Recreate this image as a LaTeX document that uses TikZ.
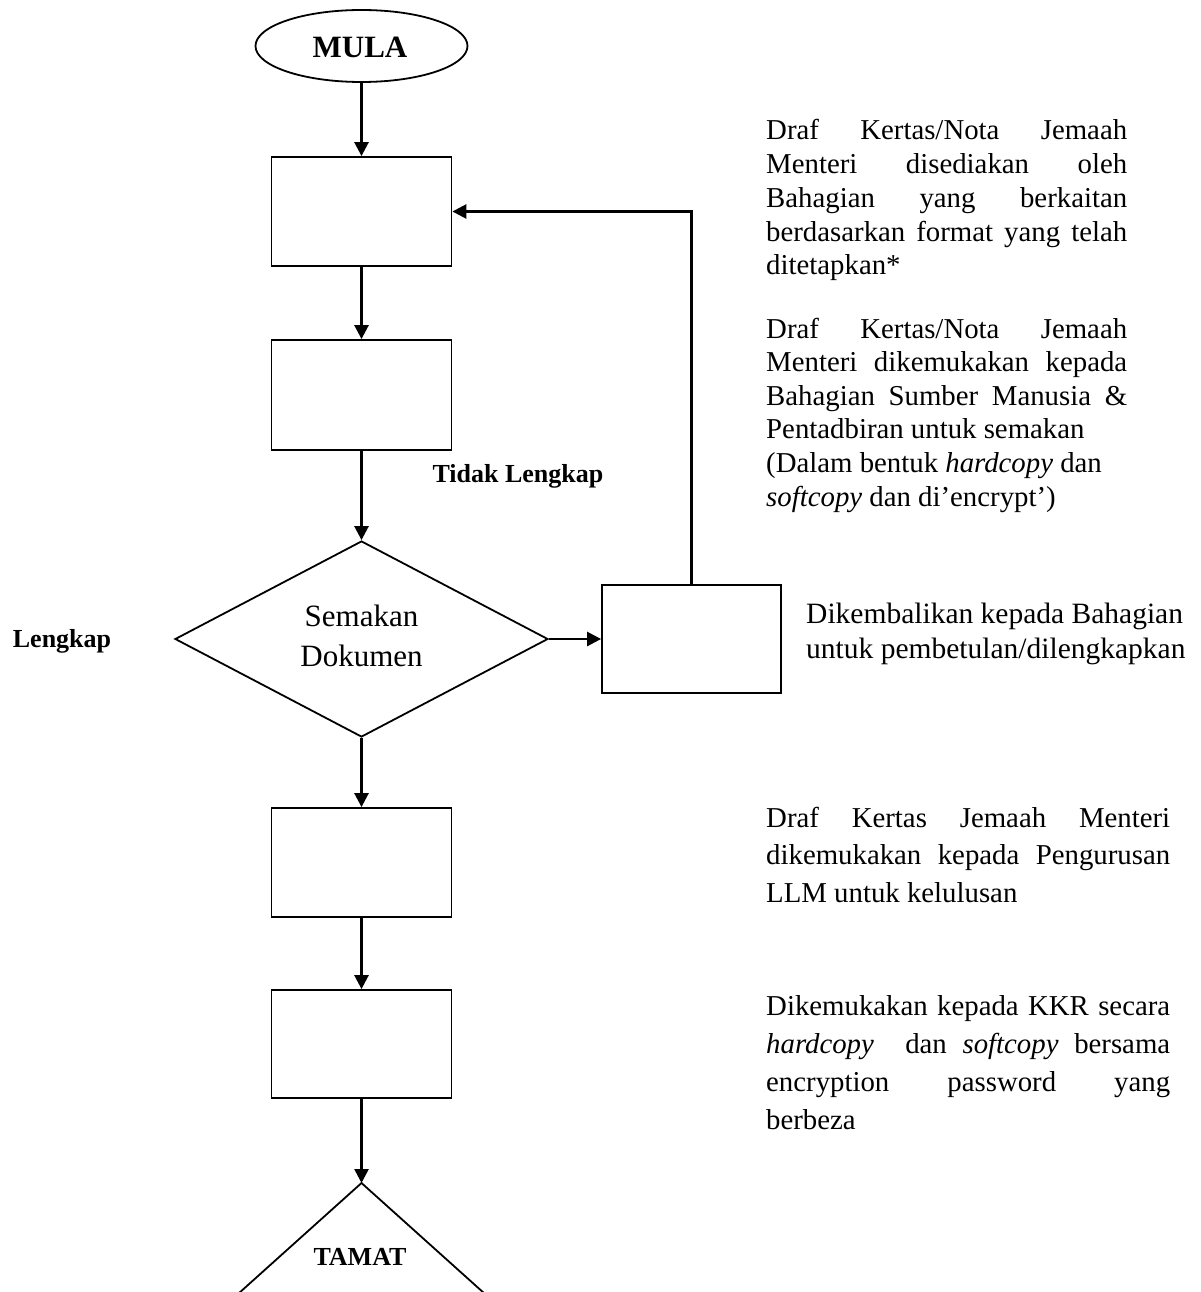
\documentclass[tikz,border=0pt]{standalone}
\usepackage{fontspec}
\setmainfont{Liberation Serif}
\usetikzlibrary{shapes.geometric,arrows.meta}
\newcommand\jline[1]{\makebox[\linewidth][s]{#1}\par}
\tikzset{
  shapeline/.style={draw, line width=1.8pt},
  flowbox/.style={shapeline, rectangle, inner sep=0pt, minimum width=180pt, minimum height=109pt},
  conn/.style={line width=2.6pt, -{Triangle[length=14pt,width=14pt]}},
  lbl/.style={inner sep=0pt, anchor=base, font=\fontsize{26pt}{30pt}\selectfont\bfseries},
  desc/.style={inner sep=0pt, anchor=base west},
}
\begin{document}
\begin{tikzpicture}[x=1pt,y=-1pt]
\useasboundingbox (0,0) rectangle (1200,1292);
\clip (0,0) rectangle (1200,1292);
\fill[white] (0,0) rectangle (1200,1292);

% start
\node[shapeline, ellipse, inner sep=0pt, minimum width=212pt, minimum height=72pt] (mula) at (361.5,46) {};
\node[inner sep=0pt, anchor=base, font=\fontsize{31pt}{34pt}\selectfont\bfseries] (mulatxt) at (360,58) {MULA};

% boxes
\node[flowbox] (b1) at (361.5,211.5) {};
\node[flowbox, minimum height=110pt] (b2) at (361.5,395) {};
\node[shapeline, diamond, inner sep=0pt, minimum width=373pt, minimum height=196pt, shape aspect=1.9] (dia) at (361.5,639) {};
\node[inner sep=0pt, align=center, font=\fontsize{31pt}{40pt}\selectfont] (diatxt) at (361.5,636) {Semakan\\Dokumen};
\node[flowbox, minimum width=179pt, minimum height=108pt] (b3) at (691.5,639) {};
\node[flowbox] (b4) at (361.5,862.5) {};
\node[flowbox, minimum height=108pt] (b5) at (361.5,1044) {};

% end triangle
\coordinate (tamtop) at (361.5,1183);
\draw[line width=1.8pt, line join=miter] (120,1400) -- (tamtop) -- (603,1400);
\node[lbl] (tamat) at (360,1265) {TAMAT};

% labels
\node[lbl] (tidak) at (518,482) {Tidak Lengkap};
\node[lbl] (lengkap) at (62,647) {Lengkap};

% connectors
\draw[conn] (mula.south) -- (b1.north);
\draw[conn] (b1.south) -- (b2.north);
\draw[conn] (b2.south) -- (dia.north);
\draw[conn] (dia.east) -- (b3.west);
\draw[conn] (b3.north) |- (b1.east);
\draw[conn] (dia.south) -- (b4.north);
\draw[conn] (b4.south) -- (b5.north);
\draw[conn] (b5.south) -- (tamtop);

% descriptions
\node[desc] (d1) at (766,140) {\parbox[t]{361pt}{\fontsize{28.8pt}{33.7pt}\selectfont
\jline{Draf Kertas/Nota Jemaah}
\jline{Menteri disediakan oleh}
\jline{Bahagian yang berkaitan}
\jline{berdasarkan format yang telah}
ditetapkan*\par}};

\node[desc] (d2) at (766,338) {\parbox[t]{361pt}{\fontsize{28.8pt}{33.6pt}\selectfont
\jline{Draf Kertas/Nota Jemaah}
\jline{Menteri dikemukakan kepada}
\jline{Bahagian Sumber Manusia \&}
Pentadbiran untuk semakan\par
(Dalam bentuk \textit{hardcopy} dan\par
\textit{softcopy} dan di’encrypt’)\par}};

\node[desc] (d3) at (806,623) {\parbox[t]{394pt}{\fontsize{29.5pt}{35pt}\selectfont
Dikembalikan kepada Bahagian\par
untuk pembetulan/dilengkapkan\par}};

\node[desc] (d4) at (766,827) {\parbox[t]{404pt}{\fontsize{28.8pt}{37.5pt}\selectfont
\jline{Draf Kertas Jemaah Menteri}
\jline{dikemukakan kepada Pengurusan}
LLM untuk kelulusan\par}};

\node[desc] (d5) at (766,1015) {\parbox[t]{404pt}{\fontsize{28.8pt}{38.3pt}\selectfont
\jline{Dikemukakan kepada KKR secara}
\jline{\textit{hardcopy}\ \ dan \textit{softcopy} bersama}
\jline{encryption password yang}
berbeza\par}};
\end{tikzpicture}
\end{document}
